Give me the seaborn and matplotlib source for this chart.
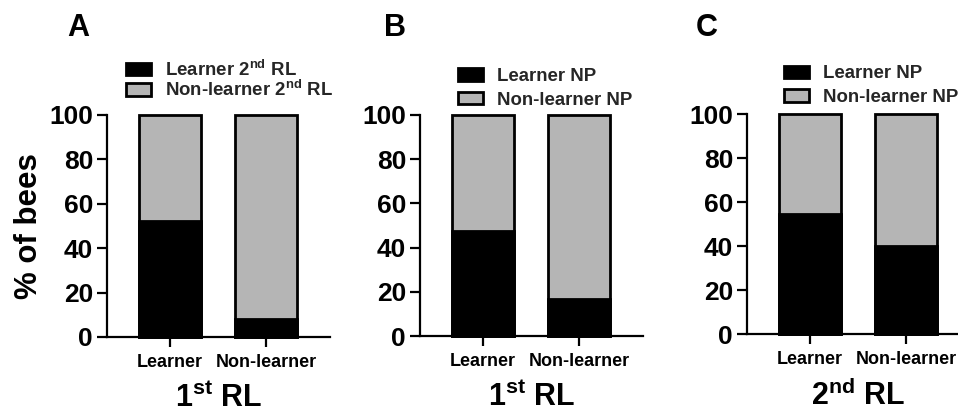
import matplotlib
matplotlib.use("Agg")
import matplotlib.pyplot as plt
import seaborn as sns
import pandas as pd
from matplotlib.patches import Patch

# Percentage of bees per group (learner share; the remainder up to 100 % is non-learner)
groups = ["Learner", "Non-learner"]
total = [100, 100]
learner_2nd_rl = [52.3, 8.3]      # A: 2nd reversal learning, split by 1st RL
learner_np_1st = [47.5, 16.7]     # B: negative patterning, split by 1st RL
learner_np_2nd = [54.5, 40.0]     # C: negative patterning, split by 2nd RL

panel_letters = ["A", "B", "C"]
xlabels = [r"1$^{\mathrm{st}}$ RL", r"1$^{\mathrm{st}}$ RL", r"2$^{\mathrm{nd}}$ RL"]
legend_labels = [
    [r"Learner 2$^{\mathrm{nd}}$ RL", r"Non-learner 2$^{\mathrm{nd}}$ RL"],
    ["Learner NP", "Non-learner NP"],
    ["Learner NP", "Non-learner NP"],
]
yticks = [0, 20, 40, 60, 80, 100]

GRAY = "#b5b5b5"
LW = 2.0

sns.set_theme(style="ticks")
plt.rcParams["font.family"] = ["Liberation Sans", "DejaVu Sans"]
plt.rcParams["font.weight"] = "bold"
plt.rcParams["axes.labelweight"] = "bold"
plt.rcParams["mathtext.fontset"] = "custom"
plt.rcParams["mathtext.rm"] = "Liberation Sans:bold"
plt.rcParams["mathtext.bf"] = "Liberation Sans:bold"
plt.rcParams["mathtext.it"] = "Liberation Sans:bold"

W, H = 958, 413
fig = plt.figure(figsize=(W / 100, H / 100), dpi=100)

# axes boxes in pixels: left, top, width, height
boxes = [(107, 115, 223, 222), (420, 115, 223, 221), (747, 114, 223, 220)]
legend_anchor = [(126, 59.5), (458, 68), (784, 65.5)]
legend_spacing = [0.02, 0.35, 0.35]
letter_pos = [(78, 28), (395, 28), (707, 28)]
series = [learner_2nd_rl, learner_np_1st, learner_np_2nd]

for i, (l, t, w, h) in enumerate(boxes):
    ax = fig.add_axes([l / W, 1 - (t + h) / H, w / W, h / H])
    df_tot = pd.DataFrame({"group": groups, "pct": total})
    df_lrn = pd.DataFrame({"group": groups, "pct": series[i]})
    sns.barplot(data=df_tot, x="group", y="pct", color=GRAY, saturation=1,
                edgecolor="black", linewidth=LW, width=0.65, ax=ax)
    sns.barplot(data=df_lrn, x="group", y="pct", color="black", saturation=1,
                edgecolor="black", linewidth=LW, width=0.65, ax=ax)
    for p in ax.patches:
        p.set_clip_on(False)

    ax.set_xlim(-0.66, 1.67)
    ax.set_ylim(0, 100)
    ax.set_yticks(yticks)
    sns.despine(ax=ax)
    ax.spines["left"].set_bounds(0, 100)
    for s in ("left", "bottom"):
        ax.spines[s].set_linewidth(1.6)
        ax.spines[s].set_color("black")
    ax.tick_params(axis="y", length=7, width=1.6, pad=3, labelsize=19, colors="black")
    ax.tick_params(axis="x", length=7, width=1.6, pad=5, labelsize=13, colors="black")
    for lab in ax.get_xticklabels() + ax.get_yticklabels():
        lab.set_fontweight("bold")

    ax.set_xlabel(xlabels[i], fontsize=22, fontweight="bold", labelpad=9, color="black")
    if i == 0:
        ax.set_ylabel("% of bees", fontsize=22.5, fontweight="bold", labelpad=4, color="black")
    else:
        ax.set_ylabel("")

    handles = [
        Patch(facecolor="black", edgecolor="black", linewidth=LW, label=legend_labels[i][0]),
        Patch(facecolor=GRAY, edgecolor="black", linewidth=LW, label=legend_labels[i][1]),
    ]
    lx, ly = legend_anchor[i]
    fig.legend(handles=handles, loc="upper left", bbox_to_anchor=(lx / W, 1 - ly / H),
               frameon=False, prop={"size": 13.4, "weight": "bold"},
               handlelength=1.35, handleheight=0.65, handletextpad=0.75,
               labelspacing=legend_spacing[i], borderaxespad=0, borderpad=0)

    px, py = letter_pos[i]
    fig.text(px / W, 1 - py / H, panel_letters[i], fontsize=22, fontweight="bold",
             ha="center", va="center", color="black")

fig.savefig("out.png", dpi=100)
